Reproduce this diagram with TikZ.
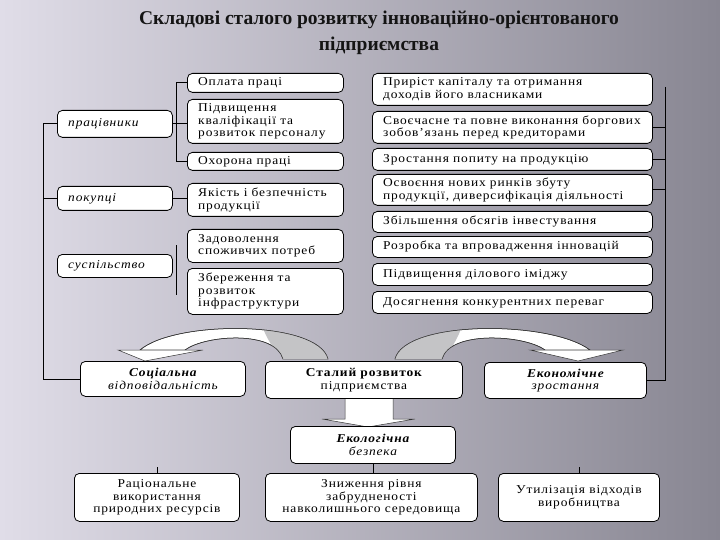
\documentclass[tikz,border=0pt]{standalone}
\usepackage{fontspec}
\setmainfont{Liberation Serif}
\newfontfamily\boxfont[LetterSpace=7,FakeStretch=1.12]{Liberation Serif}
\newfontfamily\titlefont{Liberation Serif}
\usetikzlibrary{calc}
\definecolor{bgL}{RGB}{224,221,232}
\definecolor{bgR}{RGB}{136,134,146}
\definecolor{ribgrey}{RGB}{196,196,198}
\definecolor{titlecol}{RGB}{20,20,20}
\tikzset{
 box/.style={draw=black, fill=white, rounded corners=5pt, line width=0.8pt, inner sep=0pt},
 txt/.style={font=\boxfont\fontsize{12}{12.5}\selectfont, inner sep=0pt},
 ltxt/.style={txt, anchor=west, align=left},
 ctxt/.style={txt, align=center},
 conn/.style={draw=black, line width=0.8pt},
 ribbon/.style={draw=black!80, line width=0.5pt, fill=white},
 ribline/.style={draw=black!80, line width=0.5pt},
}
\newcommand\boxL[6]{%
 \node[box, anchor=north west, minimum width={#4pt-#2pt}, minimum height={#5pt-#3pt}] (#1) at (#2,#3) {};
 \node[ltxt] (#1t) at ([xshift=11pt]#1.west) {#6};}
\newcommand\boxC[6]{%
 \node[box, anchor=north west, minimum width={#4pt-#2pt}, minimum height={#5pt-#3pt}] (#1) at (#2,#3) {};
 \node[ctxt] (#1t) at (#1.center) {#6};}
\begin{document}
\begin{tikzpicture}[x=1pt,y=-1pt]
\useasboundingbox (0,0) rectangle (720,540);
\shade[left color=bgL, right color=bgR] (0,0) rectangle (720,540);
\node[font=\titlefont\bfseries\fontsize{19.5}{26}\selectfont, text=titlecol, align=center] (title) at (379,33) {Складові сталого розвитку інноваційно-орієнтованого\\підприємства};

% left curved arrow
\draw[ribbon] (328,359) .. controls (318,320) and (175,320) .. (140,350) -- (185,350) .. controls (205,335) and (275,330) .. (283,359) -- cycle;
\begin{scope}
\clip (328,359) .. controls (318,320) and (175,320) .. (140,350) -- (185,350) .. controls (205,335) and (275,330) .. (283,359) -- cycle;
\fill[ribgrey] (258,310) .. controls (262,335) and (275,350) .. (283,362) -- (340,362) -- (340,310) -- cycle;
\end{scope}
\draw[ribline] (328,359) .. controls (318,320) and (175,320) .. (140,350) -- (185,350) .. controls (205,335) and (275,330) .. (283,359);
\draw[ribbon] (118,350) -- (203,350) -- (145,361) -- cycle;

% right curved arrow
\draw[ribbon] (395,359) .. controls (405,320) and (550,320) .. (590,350) -- (545,350) .. controls (525,335) and (450,330) .. (442,359) -- cycle;
\begin{scope}
\clip (395,359) .. controls (405,320) and (550,320) .. (590,350) -- (545,350) .. controls (525,335) and (450,330) .. (442,359) -- cycle;
\fill[ribgrey] (466,310) .. controls (462,335) and (450,350) .. (442,362) -- (385,362) -- (385,310) -- cycle;
\end{scope}
\draw[ribline] (395,359) .. controls (405,320) and (550,320) .. (590,350) -- (545,350) .. controls (525,335) and (450,330) .. (442,359);
\draw[ribbon] (530,350) -- (623,350) -- (578,361) -- cycle;

% down arrow
\draw[ribbon] (345,396) -- (345,419) -- (322,419) -- (368,427) -- (415,419) -- (393,419) -- (393,396) -- cycle;

% left column
\boxL{L1}{57}{110}{172}{137}{\itshape працівники}
\boxL{L2}{57}{186}{172}{210}{\itshape покупці}
\boxL{L3}{57}{254}{172}{277}{\itshape суспільство}

% middle column
\boxL{M1}{187}{73}{343}{92}{Оплата праці}
\boxL{M2}{187}{99}{343}{143}{Підвищення\\кваліфікації та\\розвиток персоналу}
\boxL{M3}{187}{152}{343}{170}{Охорона праці}
\boxL{M4}{187}{183}{343}{216}{Якість і безпечність\\продукції}
\boxL{M5}{187}{229}{343}{262}{Задоволення\\споживчих потреб}
\boxL{M6}{187}{268}{343}{314}{Збереження та\\розвиток\\інфраструктури}

% right column
\boxL{R1}{372}{73}{652}{105}{Приріст капіталу та отримання\\доходів його власниками}
\boxL{R2}{372}{111}{652}{143}{Своєчасне та повне виконання боргових\\зобов’язань перед кредиторами}
\boxL{R3}{372}{148}{652}{170}{Зростання попиту на продукцію}
\boxL{R4}{372}{174}{652}{205}{Освоєння нових ринків збуту\\продукції, диверсифікація діяльності}
\boxL{R5}{372}{211}{652}{232}{Збільшення обсягів інвестування}
\boxL{R6}{372}{236}{652}{257}{Розробка та впровадження інновацій}
\boxL{R7}{372}{263}{652}{285}{Підвищення ділового іміджу}
\boxL{R8}{372}{291}{652}{313}{Досягнення конкурентних переваг}

% lower rows
\boxC{S}{80}{361}{245}{396}{\bfseries\itshape Соціальна\\\itshape відповідальність}
\boxC{C}{265}{361}{462}{398}{\bfseries Сталий розвиток\\підприємства}
\boxC{E}{484}{362}{646}{398}{\bfseries\itshape Економічне\\\itshape зростання}
\boxC{K}{290}{426}{455}{463}{\bfseries\itshape Екологічна\\\itshape безпека}
\boxC{B1}{74}{473}{239}{521}{Раціональне\\використання\\природних ресурсів}
\boxC{B2}{265}{473}{477}{521}{Зниження рівня\\забрудненості\\навколишнього середовища}
\boxC{B3}{498}{473}{659}{521}{Утилізація відходів\\виробництва}

% connectors
\draw[conn] (L1.east) -- (L1.east -| M2.west);
\draw[conn] (M1.west) -- ++(-11,0) |- (M3.west);
\draw[conn] (L2.east) -- (L2.east -| M4.west);
\coordinate (s1) at (176,245);
\coordinate (s2) at (176,295);
\draw[conn] (s1) -- (s2);
\draw[conn] (L1.west) -- ++(-14,0) |- (S.west);
\draw[conn] (L2.west) -- ++(-14,0);
\coordinate (rtop) at (665,87);
\draw[conn] (rtop) |- (E.east);
\draw[conn] (R2.east) -- (R2.east -| rtop);
\draw[conn] (R3.east) -- (R3.east -| rtop);
\draw[conn] (R4.east) -- (R4.east -| rtop);
\draw[conn] (K.south) -- (K.south |- B2.north);
\draw[conn] (B1.north) -- ++(0,-6);
\draw[conn] (B3.north) -- ++(0,-6);
\end{tikzpicture}
\end{document}
